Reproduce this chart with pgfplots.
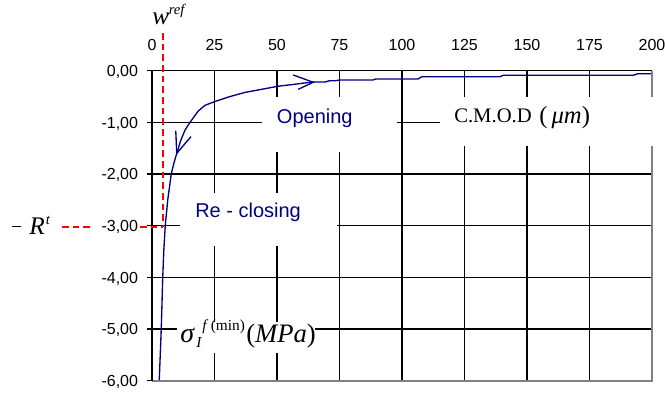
\documentclass[border=0pt]{standalone}
\usepackage{pgfplots}
\pgfplotsset{compat=1.18}
\usepackage{fontspec}
\setmainfont{Liberation Sans}
\newfontfamily\tnr{Liberation Serif}
\definecolor{navy}{RGB}{0,0,128}
\definecolor{refred}{RGB}{255,0,0}
\definecolor{shadowgray}{RGB}{128,128,128}
\begin{document}
\begin{tikzpicture}
\begin{axis}[
  at={(114pt,11.475pt)}, anchor=south west,
  scale only axis, width=375pt, height=232.5pt,
  xmin=0, xmax=200, ymin=-6, ymax=0,
  clip=false,
  axis line style={draw=none},
  xtick={0,25,...,200},
  xticklabels={0,25,50,75,100,125,150,175,200},
  ytick={-6,-5,...,0},
  yticklabels={{-6,00},{-5,00},{-4,00},{-3,00},{-2,00},{-1,00},{0,00}},
  xticklabel pos=top,
  ytick pos=left,
  tick align=outside,
  major tick length=4pt,
  x tick style={draw=none},
  y tick style={black, line width=0.8pt},
  grid=major,
  major grid style={black, line width=0.8pt},
  tick label style={font=\fontsize{12}{14}\selectfont, inner sep=0pt},
  xticklabel style={anchor=base, yshift=11.5pt},
  yticklabel style={anchor=base east, xshift=-6.3pt, yshift=-4.4pt},
]
% curve
\addplot[navy, line width=1pt] coordinates {
(2.9,-6.0) (3.3,-5.5) (3.7,-5.0) (4.0,-4.5) (4.3,-4.0) (4.7,-3.5) (5.3,-3.0)
(6.3,-2.5) (7.7,-2.0) (8.7,-1.8) (9.9,-1.6) (11.5,-1.35) (13.2,-1.15) (15.2,-1.0)
(18.5,-0.78) (21.2,-0.67) (25.0,-0.60) (30.5,-0.51) (37.2,-0.42) (43.9,-0.36)
(50.5,-0.30) (55.9,-0.27) (63.9,-0.22) (69.2,-0.22) (71.0,-0.194) (73.2,-0.194)
(75.2,-0.18) (88.4,-0.18) (89.5,-0.16) (106.4,-0.16) (108,-0.116) (139.2,-0.116)
(140.5,-0.089) (192.4,-0.089) (194.4,-0.058) (200,-0.058)};
% arrow heads
\addplot[navy, line width=1pt] coordinates {(56.5,-0.083) (64.5,-0.224) (58.5,-0.36)};
\addplot[navy, line width=1pt] coordinates {(9.5,-1.161) (9.9,-1.599) (15.6,-1.277)};
\end{axis}
\begin{scope}[shift={(0pt,297pt)}, x=0.75pt, y=-0.75pt]
% frame
\draw[shadowgray, line width=1.5pt] (152,380.7) -- (652,380.7) -- (652,70.7);
\draw[black, line width=0.9pt] (152,380.7) -- (152,70.7) -- (652,70.7);
% reference lines (annotations)
\draw[refred, line width=1.5pt, dash pattern=on 5pt off 3pt] (163,33) -- (163,227);
\draw[refred, line width=1.5pt, dash pattern=on 5pt off 3pt] (62,227) -- (93,227);
\draw[refred, line width=1.5pt, dash pattern=on 5pt off 3pt] (140,227) -- (163,227);
% white label boxes
\fill[white] (262,97) rectangle (397,152);
\fill[white] (440,97) rectangle (657,146.5);
\fill[white] (180,193) rectangle (337,246);
\fill[white] (177,322) rectangle (315,353);
% texts
\node[anchor=base west, inner sep=0pt, text=navy, font=\fontsize{15}{18}\selectfont] at (276.7,123.5) {Opening};
\node[anchor=base west, inner sep=0pt, text=navy, font=\fontsize{15}{18}\selectfont] at (195,217.3) {Re - closing};
\node[anchor=base west, inner sep=0pt, font=\tnr\fontsize{15.5}{18}\selectfont] at (454,122.7) {C.M.O.D};
\node[anchor=base west, inner sep=0pt, font=\tnr\fontsize{18.5}{22}\selectfont] at (539,124) {(\,\textit{μm})};
% w ref
\node[anchor=base west, inner sep=0pt, font=\tnr\itshape\fontsize{19}{22}\selectfont] at (152,25) {w};
\node[anchor=base west, inner sep=0pt, font=\tnr\itshape\fontsize{11}{13}\selectfont] at (168.5,14.5) {ref};
% -R t
\draw[black, line width=1.1pt] (12,226.5) -- (21,226.5);
\node[anchor=base west, inner sep=0pt, font=\tnr\itshape\fontsize{19}{22}\selectfont] at (29,235) {R};
\node[anchor=base west, inner sep=0pt, font=\tnr\itshape\fontsize{11}{13}\selectfont] at (45.5,225) {t};
% sigma
\node[anchor=base west, inner sep=0pt, font=\tnr\itshape\fontsize{21}{24}\selectfont] at (180,343) {σ};
\node[anchor=base west, inner sep=0pt, font=\tnr\itshape\fontsize{11.5}{13}\selectfont] at (196,348) {I};
\node[anchor=base west, inner sep=0pt, font=\tnr\fontsize{11.5}{13}\selectfont] at (202,331) {\textit{f}\,(min)};
\node[anchor=base west, inner sep=0pt, font=\tnr\fontsize{20}{24}\selectfont] at (246,343) {(\textit{MPa})};
\end{scope}
\pgfresetboundingbox
\path (0,0) rectangle (498.75pt,297pt);
\end{tikzpicture}
\end{document}
